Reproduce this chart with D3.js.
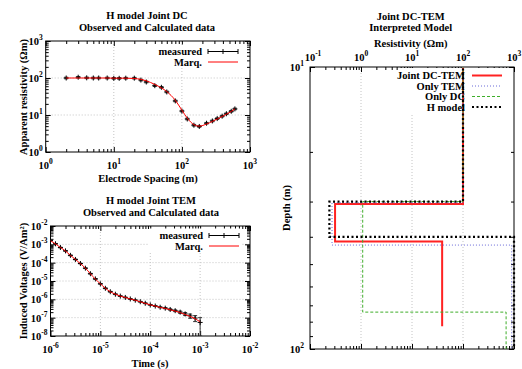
<!DOCTYPE html>
<html>
<head>
<meta charset="utf-8">
<script src="https://cdn.jsdelivr.net/npm/d3@7"></script>
<style>
  body { margin: 0; background: #fff; }
  svg { font-family: "Liberation Serif", "DejaVu Serif", serif; font-weight: bold; font-size: 10.5px; }
  .ticks path { display: none; }
  .ticks line { stroke: #000; }
  .grid line { stroke: #c4c4c4; stroke-dasharray: 1,2; }
</style>
</head>
<body>
<svg id="chart" width="522" height="369"></svg>
<script>
// ---- DC sounding (top left) ----
const dcSpacing = [2, 3, 4, 5, 6, 8, 10, 12, 15, 20, 25, 30, 40, 50, 60, 80, 100, 120, 150, 180, 230, 280, 330, 390, 450, 530, 600];
const dcObs  = [100, 105, 101, 100, 100, 100, 98, 98, 99, 99, 88, 78, 62, 56, 42, 24, 12.8, 7.8, 5.3, 4.9, 6.0, 6.9, 8.0, 9.3, 10.8, 12.6, 14.6];
const dcErr  = [5, 5, 5, 5, 5, 5, 5, 5, 5, 5, 4.4, 3.9, 3.1, 2.8, 2.1, 1.2, 0.64, 0.39, 0.27, 0.25, 0.3, 0.35, 0.4, 0.47, 0.54, 0.63, 0.73];
const dcCalc = [100, 100, 100, 100, 100, 100, 99, 99, 99, 97, 92, 84, 67, 54, 43, 25, 13.5, 8.2, 5.5, 5.0, 5.7, 6.7, 7.8, 9.1, 10.5, 12.5, 14.6];

// ---- TEM sounding (bottom left) ----
const temTime = [1.0e-6, 1.26e-6, 1.58e-6, 2.0e-6, 2.51e-6, 3.16e-6, 3.98e-6, 5.01e-6, 6.31e-6, 7.94e-6,
                 1.0e-5, 1.26e-5, 1.58e-5, 2.0e-5, 2.51e-5, 3.16e-5, 3.98e-5, 5.01e-5, 6.31e-5, 7.94e-5,
                 1.0e-4, 1.26e-4, 1.58e-4, 2.0e-4, 2.51e-4, 3.16e-4, 3.98e-4, 5.01e-4, 6.31e-4, 7.94e-4, 1.0e-3];
const temObs = [1.6e-3, 1.07e-3, 6.7e-4, 4.4e-4, 2.5e-4, 1.5e-4, 9.0e-5, 5.0e-5, 2.5e-5, 1.3e-5,
                7.0e-6, 4.0e-6, 2.6e-6, 1.9e-6, 1.5e-6, 1.27e-6, 1.05e-6, 9.0e-7, 7.4e-7, 6.1e-7,
                5.0e-7, 4.3e-7, 3.7e-7, 3.3e-7, 2.8e-7, 2.4e-7, 2.0e-7, 1.6e-7, 1.25e-7, 9.5e-8, 5.5e-8];
const temErr = [8e-5, 5e-5, 3.4e-5, 2.2e-5, 1.3e-5, 7.5e-6, 4.5e-6, 2.5e-6, 1.3e-6, 6.5e-7,
                3.5e-7, 2.0e-7, 1.3e-7, 9.5e-8, 7.5e-8, 6.4e-8, 5.3e-8, 4.5e-8, 3.7e-8, 3.1e-8,
                2.5e-8, 2.2e-8, 2.2e-8, 2.3e-8, 2.5e-8, 2.6e-8, 2.8e-8, 3.0e-8, 3.2e-8, 3.4e-8, 4.5e-8];
const temCalc = [1.58e-3, 1.05e-3, 6.8e-4, 4.3e-4, 2.5e-4, 1.5e-4, 8.9e-5, 5.0e-5, 2.5e-5, 1.26e-5,
                 7.1e-6, 4.0e-6, 2.6e-6, 1.9e-6, 1.5e-6, 1.26e-6, 1.05e-6, 8.9e-7, 7.4e-7, 6.0e-7,
                 5.0e-7, 4.3e-7, 3.6e-7, 3.2e-7, 2.7e-7, 2.3e-7, 1.9e-7, 1.5e-7, 1.17e-7, 8.7e-8, 6.0e-8];

// ---- interpreted layered models (right): resistivity per layer, depth of layer bottom ----
const jointRho = [100, 0.31, 39],  jointDepth = [30.6, 41.6, 83];
const temRho   = [100, 0.27, 900], temDepth   = [30.3, 42.8, 200];
const dcRho    = [100, 1.08, 700], dcDepth    = [30, 74, 200];
const hRho     = [100, 0.24, 1000], hDepth    = [30, 40, 200];

const svg = d3.select('#chart');

function decades(lo, hi) {
  const major = [], minor = [];
  for (let k = Math.round(Math.log10(lo)); k <= Math.round(Math.log10(hi)); k++) {
    major.push(Math.pow(10, k));
    if (Math.pow(10, k) < hi) for (let m = 2; m <= 9; m++) minor.push(m * Math.pow(10, k));
  }
  return {major, minor};
}

function ticks(g, scale, orient, w, h, values, size) {
  const make = {bottom: d3.axisBottom, top: d3.axisTop, left: d3.axisLeft, right: d3.axisRight}[orient];
  const ax = make(scale).tickValues(values).tickSizeInner(-size).tickSizeOuter(0).tickFormat('');
  const t = g.append('g').attr('class', 'ticks').call(ax);
  if (orient === 'bottom') t.attr('transform', 'translate(0,' + h + ')');
  if (orient === 'right') t.attr('transform', 'translate(' + w + ',0)');
  t.selectAll('text').remove();
}

function pow10(sel, exp) {
  sel.text('10');
  sel.append('tspan').attr('dy', -5).attr('font-size', 7.5).text(exp);
}

function frame(g, w, h, x, y, xt, yt) {
  const gx = decades(x.domain()[0], x.domain()[1]);
  const gy = decades(Math.min(...y.domain()), Math.max(...y.domain()));
  if (xt.grid) g.append('g').attr('class', 'grid').selectAll('line')
      .data(gx.major.slice(1, -1)).enter().append('line')
      .attr('x1', d => x(d)).attr('x2', d => x(d)).attr('y1', 0).attr('y2', h);
  if (yt.grid) g.append('g').attr('class', 'grid').selectAll('line')
      .data(gy.major.slice(1, -1)).enter().append('line')
      .attr('y1', d => y(d)).attr('y2', d => y(d)).attr('x1', 0).attr('x2', w);
  ['bottom', 'top'].forEach(o => { ticks(g, x, o, w, h, gx.major, 5); ticks(g, x, o, w, h, gx.minor, 3); });
  ['left', 'right'].forEach(o => { ticks(g, y, o, w, h, gy.major, 5); ticks(g, y, o, w, h, gy.minor, 3); });
  g.append('rect').attr('width', w).attr('height', h).attr('fill', 'none').attr('stroke', '#000');
  const xl = g.append('g').selectAll('text').data(gx.major).enter().append('text')
      .attr('x', d => x(d) + (xt.shift ? xt.shift(d) : 0)).attr('y', xt.y).attr('text-anchor', 'middle');
  xl.each(function (d) { pow10(d3.select(this), Math.round(Math.log10(d))); });
  const yl = g.append('g').selectAll('text').data(yt.values || gy.major).enter().append('text')
      .attr('x', yt.x || -3).attr('y', d => y(d) + 4).attr('text-anchor', 'end');
  yl.each(function (d) { pow10(d3.select(this), Math.round(Math.log10(d))); });
}

function plus(g, pts, x, y) {
  g.append('g').selectAll('path').data(pts).enter().append('path')
    .attr('d', d => { const px = x(d[0]), py = y(d[1]);
      return 'M' + (px - 2.5) + ',' + py + 'H' + (px + 2.5) + 'M' + px + ',' + (py - 2.5) + 'V' + (py + 2.5); })
    .attr('stroke', '#000').attr('stroke-width', 1);
}

function errbars(g, pts, x, y) {
  g.append('g').selectAll('path').data(pts).enter().append('path')
    .attr('d', d => { const px = x(d[0]), lo = y(Math.max(d[1] - d[2], 1e-12)), hi = y(d[1] + d[2]);
      return 'M' + px + ',' + lo + 'V' + hi + 'M' + (px - 2) + ',' + lo + 'H' + (px + 2) + 'M' + (px - 2) + ',' + hi + 'H' + (px + 2); })
    .attr('stroke', '#333').attr('stroke-width', 1).attr('fill', 'none');
}

function legendLeft(g, lx, ly) {
  g.append('rect').attr('x', lx - 54).attr('y', ly - 7).attr('width', 92).attr('height', 23).attr('fill', '#fff');
  g.append('text').attr('x', lx).attr('y', ly + 3.5).attr('text-anchor', 'end').text('measured');
  g.append('path').attr('d', 'M' + (lx + 6) + ',' + ly + 'H' + (lx + 36) + 'M' + (lx + 6) + ',' + (ly - 2.5) + 'V' + (ly + 2.5) +
      'M' + (lx + 36) + ',' + (ly - 2.5) + 'V' + (ly + 2.5) + 'M' + (lx + 21) + ',' + (ly - 2.5) + 'V' + (ly + 2.5))
    .attr('stroke', '#000').attr('fill', 'none');
  g.append('text').attr('x', lx).attr('y', ly + 14).attr('text-anchor', 'end').text('Marq.');
  g.append('line').attr('x1', lx + 6).attr('x2', lx + 36).attr('y1', ly + 10.5).attr('y2', ly + 10.5).attr('stroke', '#f00');
}

function titles(cx, y1, lines) {
  lines.forEach((t, i) => svg.append('text').attr('x', cx).attr('y', y1 + i * 11.5).attr('text-anchor', 'middle').text(t));
}

// ---------- top left: DC ----------
{
  const L = 45.7, T = 41, W = 204.3, H = 111;
  const g = svg.append('g').attr('transform', 'translate(' + L + ',' + T + ')');
  const x = d3.scaleLog().domain([1, 1000]).range([0, W]);
  const y = d3.scaleLog().domain([1, 1000]).range([H, 0]);
  frame(g, W, H, x, y, {y: H + 17, grid: true}, {grid: true});
  legendLeft(g, 202 - L, 51.5 - T);
  const pts = dcSpacing.map((s, i) => [s, dcObs[i], dcErr[i]]);
  errbars(g, pts, x, y);
  plus(g, pts, x, y);
  g.append('path').datum(dcSpacing.map((s, i) => [s, dcCalc[i]]))
    .attr('d', d3.line().x(d => x(d[0])).y(d => y(d[1])).curve(d3.curveMonotoneX))
    .attr('fill', 'none').attr('stroke', '#f00').attr('stroke-width', 1);
  titles(147, 19, ['H model Joint DC', 'Observed and Calculated data']);
  svg.append('text').attr('x', 148).attr('y', 182).attr('text-anchor', 'middle').text('Electrode Spacing (m)');
  svg.append('text').attr('transform', 'translate(26.5,97) rotate(-90)').attr('text-anchor', 'middle').text('Apparent resistivity (\u03A9m)');
}

// ---------- bottom left: TEM ----------
{
  const L = 50.5, T = 226, W = 199.5, H = 110;
  const g = svg.append('g').attr('transform', 'translate(' + L + ',' + T + ')');
  const x = d3.scaleLog().domain([1e-6, 1e-2]).range([0, W]);
  const y = d3.scaleLog().domain([1e-8, 1e-2]).range([H, 0]);
  g.append('clipPath').attr('id', 'clipTem').append('rect').attr('width', W).attr('height', H);
  frame(g, W, H, x, y, {y: H + 16.5, grid: true}, {grid: true});
  legendLeft(g, 203 - L, 235.5 - T);
  const pts = temTime.map((t, i) => [t, temObs[i], temErr[i]]);
  const inner = g.append('g').attr('clip-path', 'url(#clipTem)');
  errbars(inner, pts, x, y);
  plus(inner, pts, x, y);
  inner.append('path').datum(temTime.map((t, i) => [t, temCalc[i]]))
    .attr('d', d3.line().x(d => x(d[0])).y(d => y(d[1])).curve(d3.curveMonotoneX))
    .attr('fill', 'none').attr('stroke', '#f00').attr('stroke-width', 1);
  titles(151, 204, ['H model Joint TEM', 'Observed and Calculated data']);
  svg.append('text').attr('x', 150).attr('y', 367).attr('text-anchor', 'middle').text('Time (s)');
  svg.append('text').attr('transform', 'translate(26.5,281) rotate(-90)').attr('text-anchor', 'middle').text('Induced Voltages (V/Am\u00B2)');
}

// ---------- right: interpreted model ----------
{
  const L = 310, T = 67, W = 204, H = 282;
  const g = svg.append('g').attr('transform', 'translate(' + L + ',' + T + ')');
  const x = d3.scaleLog().domain([0.1, 1000]).range([0, W]);
  const y = d3.scaleLog().domain([10, 100]).range([0, H]);
  g.append('clipPath').attr('id', 'clipMod').append('rect').attr('x', -2).attr('y', 0).attr('width', W + 4).attr('height', H);
  // first top label sits just right of the corner, next to the depth label
  frame(g, W, H, x, y, {y: -6, grid: true, shift: d => d === 0.1 ? 3 : 0}, {grid: false, x: -6});
  // legend background (key is opaque)
  g.append('rect').attr('x', 88).attr('y', 1).attr('width', W - 89).attr('height', 45).attr('fill', '#fff');

  const models = [
    {name: 'Joint DC-TEM', rho: jointRho, depth: jointDepth, color: '#f22', width: 2, dash: null},
    {name: 'Only TEM', rho: temRho, depth: temDepth, color: '#6a6ad8', width: 1, dash: '1,2'},
    {name: 'Only DC', rho: dcRho, depth: dcDepth, color: '#3fae2a', width: 1, dash: '3,2'},
    {name: 'H model', rho: hRho, depth: hDepth, color: '#000', width: 2.2, dash: '2,2.5'}
  ];
  const line = d3.line().x(d => x(d[0])).y(d => y(d[1]));
  const inner = g.append('g').attr('clip-path', 'url(#clipMod)');
  models.forEach(m => {
    const pts = [[m.rho[0], 1]];
    m.rho.forEach((r, i) => {
      pts.push([r, m.depth[i]]);
      if (i + 1 < m.rho.length) pts.push([m.rho[i + 1], m.depth[i]]);
    });
    inner.append('path').datum(pts).attr('d', line).attr('fill', 'none')
      .attr('stroke', m.color).attr('stroke-width', m.width).attr('stroke-dasharray', m.dash);
  });
  models.forEach((m, i) => {
    const ly = 75.5 - T + i * 10.5;
    g.append('text').attr('x', 465 - L).attr('y', ly + 3.5).attr('text-anchor', 'end').text(m.name);
    g.append('line').attr('x1', 472 - L).attr('x2', 502 - L).attr('y1', ly).attr('y2', ly)
      .attr('stroke', m.color).attr('stroke-width', m.width).attr('stroke-dasharray', m.dash);
  });
  titles(410.7, 19.5, ['Joint DC-TEM', 'Interpreted Model']);
  svg.append('text').attr('x', 410.7).attr('y', 46.5).attr('text-anchor', 'middle').text('Resistivity (\u03A9m)');
  svg.append('text').attr('transform', 'translate(290,208) rotate(-90)').attr('text-anchor', 'middle').text('Depth (m)');
}
</script>
</body>
</html>
